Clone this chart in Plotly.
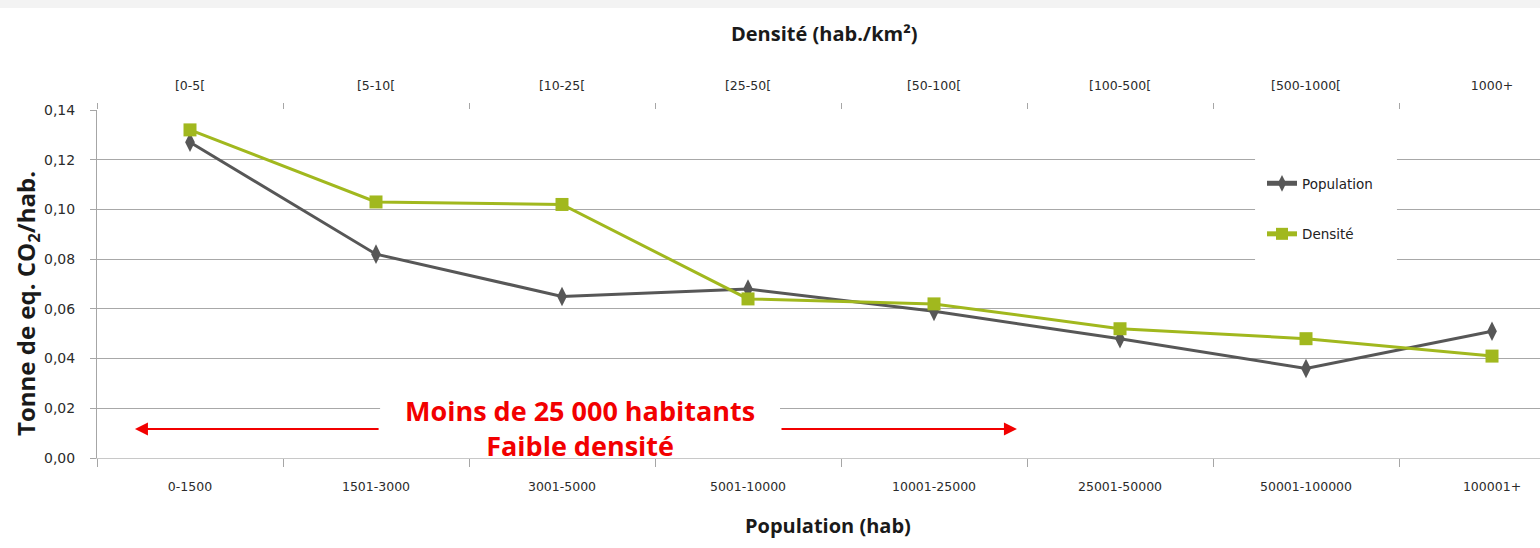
import plotly.graph_objects as go

pop_cats = ["0-1500", "1501-3000", "3001-5000", "5001-10000", "10001-25000",
            "25001-50000", "50001-100000", "100001+"]
dens_cats = ["[0-5[", "[5-10[", "[10-25[", "[25-50[", "[50-100[",
             "[100-500[", "[500-1000[", "1000+"]
population_vals = [0.127, 0.082, 0.065, 0.068, 0.059, 0.048, 0.036, 0.051]
densite_vals = [0.132, 0.103, 0.102, 0.064, 0.062, 0.052, 0.048, 0.041]
y_ticks = [0.00, 0.02, 0.04, 0.06, 0.08, 0.10, 0.12, 0.14]

GRAY = "#575757"
GREEN = "#a1b81e"
RED = "#f20000"
TICKFONT = dict(family="DejaVu Sans", size=12.5, color="#2b2b2b")
XRANGE = [-0.5, 7.258]

fig = go.Figure()
fig.add_trace(go.Scatter(
    x=pop_cats, y=population_vals, name="Population", mode="lines+markers",
    line=dict(color=GRAY, width=3),
    marker=dict(symbol="diamond-tall", size=14, color=GRAY),
    xaxis="x", yaxis="y", legendgroup="a"))
fig.add_trace(go.Scatter(
    x=dens_cats, y=densite_vals, name="Densité", mode="lines+markers",
    line=dict(color=GREEN, width=3),
    marker=dict(symbol="square", size=13, color=GREEN),
    xaxis="x2", yaxis="y", legendgroup="b"))

fig.update_layout(
    width=1540, height=548, autosize=False,
    margin=dict(l=97, r=0, t=110, b=90),
    paper_bgcolor="white", plot_bgcolor="white",
    separators=", ",
    showlegend=True,
    legend=dict(x=(1262 - 97) / 1443, y=(458 - 168) / 348, xanchor="left", yanchor="top",
                bgcolor="rgba(0,0,0,0)", font=dict(family="DejaVu Sans", size=13.5, color="#222"),
                traceorder="grouped", tracegroupgap=30, itemwidth=30, itemsizing="constant"),
    xaxis=dict(type="category", categoryarray=pop_cats, range=XRANGE,
               tickson="boundaries", ticks="outside", ticklen=8, tickcolor="#a6a6a6",
               showline=True, linecolor="#c8c8c8", linewidth=1, showgrid=False,
               tickfont=TICKFONT, ticklabelstandoff=17, fixedrange=True),
    xaxis2=dict(type="category", categoryarray=dens_cats, range=XRANGE,
                overlaying="x", side="top", anchor="y",
                tickson="boundaries", ticks="outside", ticklen=6, tickcolor="#a6a6a6",
                showline=False, showgrid=False, tickfont=TICKFONT, ticklabelstandoff=17),
    yaxis=dict(range=[0, 0.14], tickvals=y_ticks, tickformat=".2f",
               ticks="outside", ticklen=6, tickcolor="#a6a6a6",
               showgrid=True, gridcolor="#a8a8a8", gridwidth=1,
               showline=True, linecolor="#a6a6a6", linewidth=1, zeroline=False,
               tickfont=dict(family="DejaVu Sans", size=14, color="#2b2b2b"),
               ticklabelstandoff=12),
)

# faint grey band along the top edge of the picture
fig.add_shape(type="rect", xref="paper", yref="paper", layer="below",
              x0=-97 / 1443, x1=1, y0=1 + 102 / 348, y1=1 + 110 / 348,
              fillcolor="#f3f3f3", line=dict(width=0))

# white backdrop for the legend (hides gridlines)
fig.add_shape(type="rect", xref="x", yref="y", layer="between",
              x0=5.726, x1=6.489, y0=0.0757, y1=0.1239,
              fillcolor="white", line=dict(width=0))

# white backdrop behind the red note (hides the 0,02 gridline)
fig.add_shape(type="rect", xref="x", yref="y", layer="between",
              x0=1.022, x1=3.172, y0=0.0008, y1=0.0249,
              fillcolor="white", line=dict(width=0))

TITLEFONT = dict(family="Open Sans", size=20, color="#1a1a1a")
fig.add_annotation(text="<b>Densité (hab./km²)</b>", xref="paper", yref="paper",
                   x=(825 - 97) / 1443, y=1, yshift=77, xanchor="center", yanchor="middle",
                   showarrow=False, font=TITLEFONT)
fig.add_annotation(text="<b>Population (hab)</b>", xref="paper", yref="paper",
                   x=(828 - 97) / 1443, y=0, yshift=-67, xanchor="center", yanchor="middle",
                   showarrow=False, font=TITLEFONT)
fig.add_annotation(text="<b>Tonne de eq. CO<sub>2</sub>/hab.</b>", xref="paper", yref="paper",
                   x=0, xshift=-70, y=0.5, yshift=-20, xanchor="center", yanchor="middle",
                   textangle=-90, showarrow=False,
                   font=dict(family="Open Sans", size=24, color="#1a1a1a"))

# red arrows
for head, tail in [(-0.296, 1.022), (4.446, 3.172)]:
    fig.add_annotation(x=head, y=0.0117, ax=tail, ay=0.0117, xref="x", yref="y",
                       axref="x", ayref="y", text="", showarrow=True,
                       arrowhead=2, arrowsize=1.3, arrowwidth=2, arrowcolor=RED)

fig.add_annotation(text="<b>Moins de 25 000 habitants<br>Faible densité</b>",
                   x=2.097, y=0.0119, xref="x", yref="y", showarrow=False,
                   xanchor="center", yanchor="middle", borderpad=0,
                   font=dict(family="Open Sans", size=27, color=RED))

fig.write_html("out.html", config={"displayModeBar": False},
               post_script="document.body.style.margin='0';")
